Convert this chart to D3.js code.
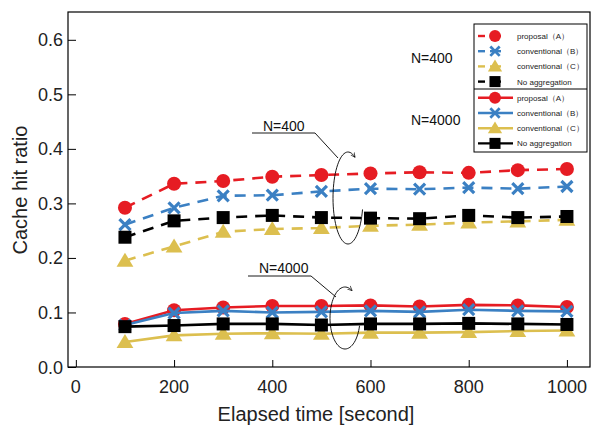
<!DOCTYPE html>
<html lang="en">
<head>
<meta charset="utf-8">
<title>Cache hit ratio</title>
<script src="https://d3js.org/d3.v7.min.js"></script>
<style>
  body { margin: 0; background: #fff; }
  text { font-family: "Liberation Sans", "DejaVu Sans", sans-serif; }
</style>
</head>
<body>
<script>
// data
var times = [100, 200, 300, 400, 500, 600, 700, 800, 900, 1000];
var xTicks = [0, 200, 400, 600, 800, 1000];
var yTicks = [0.0, 0.1, 0.2, 0.3, 0.4, 0.5, 0.6];

// N=400 (dashed)
var propA400 = [0.292, 0.336, 0.341, 0.349, 0.352, 0.355, 0.357, 0.356, 0.361, 0.363];
var convB400 = [0.261, 0.292, 0.314, 0.315, 0.322, 0.327, 0.326, 0.329, 0.327, 0.331];
var convC400 = [0.195, 0.221, 0.248, 0.253, 0.255, 0.259, 0.261, 0.265, 0.267, 0.270];
var noAgg400 = [0.238, 0.268, 0.274, 0.278, 0.274, 0.273, 0.272, 0.278, 0.274, 0.276];

// N=4000 (solid)
var propA4000 = [0.079, 0.104, 0.109, 0.112, 0.112, 0.113, 0.111, 0.114, 0.113, 0.110];
var convB4000 = [0.077, 0.099, 0.103, 0.100, 0.101, 0.103, 0.101, 0.105, 0.103, 0.102];
var convC4000 = [0.046, 0.058, 0.061, 0.062, 0.061, 0.063, 0.063, 0.064, 0.066, 0.067];
var noAgg4000 = [0.074, 0.076, 0.079, 0.079, 0.077, 0.079, 0.079, 0.080, 0.079, 0.078];

var legendLabels = ["proposal\uFF08A\uFF09", "conventional\uFF08B\uFF09", "conventional\uFF08C\uFF09", "No aggregation"];

var w = 596, h = 432;
var pLeft = 68, pRight = 590, pTop = 12, pBottom = 367;

var red = "#e61c23", blue = "#3b80c3", gold = "#dcbf4f", black = "#000";

var series = [
  {vals: propA400, color: red, shape: "circle", dash: true},
  {vals: convB400, color: blue, shape: "cross", dash: true},
  {vals: convC400, color: gold, shape: "triangle", dash: true},
  {vals: noAgg400, color: black, shape: "square", dash: true},
  {vals: propA4000, color: red, shape: "circle", dash: false},
  {vals: convB4000, color: blue, shape: "cross", dash: false},
  {vals: convC4000, color: gold, shape: "triangle", dash: false},
  {vals: noAgg4000, color: black, shape: "square", dash: false}
];

var xScale = d3.scaleLinear().domain([-16, 1047]).range([pLeft, pRight]);
var yScale = d3.scaleLinear().domain([0, 0.651]).range([pBottom, pTop]);

var svg = d3.select("body").append("svg").attr("width", w).attr("height", h);

// frame
svg.append("rect").attr("x", pLeft).attr("y", pTop).attr("width", pRight - pLeft).attr("height", pBottom - pTop)
  .attr("fill", "none").attr("stroke", "#000").attr("stroke-width", 1.2);

// axes (ticks point inward)
var xAxis = d3.axisTop(xScale).tickValues(xTicks).tickSize(7).tickFormat("");
var yAxis = d3.axisRight(yScale).tickValues(yTicks).tickSize(8).tickFormat("");
svg.append("g").attr("transform", `translate(0,${pBottom})`).call(xAxis).call(g => g.select(".domain").remove());
svg.append("g").attr("transform", `translate(${pLeft},0)`).call(yAxis).call(g => g.select(".domain").remove());

svg.selectAll(".xlab").data(xTicks).enter().append("text")
  .attr("x", d => xScale(d)).attr("y", 393).attr("text-anchor", "middle")
  .attr("font-size", 18).attr("fill", "#222").text(d => d);
svg.selectAll(".ylab").data(yTicks).enter().append("text")
  .attr("x", 63).attr("y", d => yScale(d) + 6.5).attr("text-anchor", "end")
  .attr("font-size", 18).attr("fill", "#222").text(d => d.toFixed(1));

svg.append("text").attr("x", 316).attr("y", 421).attr("text-anchor", "middle")
  .attr("font-size", 20).attr("fill", "#222").text("Elapsed time [second]");
svg.append("text").attr("transform", "translate(27,190) rotate(-90)").attr("text-anchor", "middle")
  .attr("font-size", 20).attr("fill", "#222").text("Cache hit ratio");

// markers
function drawMarker(g, shape, color, x, y, s) {
  if (shape === "circle") {
    g.append("circle").attr("cx", x).attr("cy", y).attr("r", 7 * s).attr("fill", color);
  } else if (shape === "square") {
    g.append("rect").attr("x", x - 6.5 * s).attr("y", y - 6.5 * s).attr("width", 13 * s).attr("height", 13 * s).attr("fill", color);
  } else if (shape === "triangle") {
    var r = 8 * s;
    g.append("path").attr("d", `M${x},${y - r}L${x + r * 1.05},${y + r * 0.75}L${x - r * 1.05},${y + r * 0.75}Z`).attr("fill", color);
  } else {
    var c = 5.5 * s;
    g.append("path").attr("d", `M${x - c},${y - c}L${x + c},${y + c}M${x - c},${y + c}L${x + c},${y - c}`)
      .attr("stroke", color).attr("stroke-width", 3.2 * s).attr("fill", "none");
  }
}

var line = d3.line().x((d, i) => xScale(times[i])).y(d => yScale(d));

series.forEach(function(s) {
  var g = svg.append("g");
  g.append("path").attr("d", line(s.vals)).attr("fill", "none").attr("stroke", s.color)
    .attr("stroke-width", 2.6).attr("stroke-dasharray", s.dash ? "11,8" : null);
  s.vals.forEach(function(v, i) { drawMarker(g, s.shape, s.color, xScale(times[i]), yScale(v), 1); });
});

// legend
var lg = svg.append("g");
lg.append("rect").attr("x", 474).attr("y", 24).attr("width", 113).attr("height", 128)
  .attr("fill", "#fff").attr("stroke", "#000").attr("stroke-width", 1);
lg.append("line").attr("x1", 474).attr("x2", 587).attr("y1", 89).attr("y2", 89).attr("stroke", "#000").attr("stroke-width", 1);
series.forEach(function(s, i) {
  var y = 36 + i * 15.2 + (i >= 4 ? 1 : 0);
  if (s.dash) {
    lg.append("line").attr("x1", 478).attr("x2", 485).attr("y1", y).attr("y2", y).attr("stroke", s.color).attr("stroke-width", 2.4);
    lg.append("line").attr("x1", 490).attr("x2", 501).attr("y1", y).attr("y2", y).attr("stroke", s.color).attr("stroke-width", 2.4);
  } else {
    lg.append("line").attr("x1", 478).attr("x2", 513).attr("y1", y).attr("y2", y).attr("stroke", s.color).attr("stroke-width", 2.4);
  }
  drawMarker(lg, s.shape, s.color, 495, y, 0.85);
  lg.append("text").attr("x", 517).attr("y", y + 3).attr("font-size", 8).attr("fill", "#222")
    .text(legendLabels[i % 4]);
});

svg.append("text").attr("x", 411).attr("y", 63).attr("font-size", 14).attr("fill", "#111").text("N=400");
svg.append("text").attr("x", 411).attr("y", 125).attr("font-size", 14).attr("fill", "#111").text("N=4000");

// annotations
svg.append("defs").append("marker").attr("id", "arr").attr("viewBox", "0 0 10 10")
  .attr("refX", 8).attr("refY", 5).attr("markerWidth", 6).attr("markerHeight", 6).attr("orient", "auto")
  .append("path").attr("d", "M0,1L9,5L0,9").attr("fill", "none").attr("stroke", "#000").attr("stroke-width", 1.2);

function annotate(label, tx, ty, lineY, ex, ey, cx, cy, rx, ry) {
  svg.append("text").attr("x", tx).attr("y", ty).attr("font-size", 14).attr("fill", "#111").text(label);
  svg.append("path").attr("d", `M${tx - 11},${lineY}L${tx + 52},${lineY}L${ex},${ey}`)
    .attr("fill", "none").attr("stroke", "#000").attr("stroke-width", 0.9);
  // open ellipse with arrow head
  var a0 = -0.35 * Math.PI, a1 = 1.57 * Math.PI, pts = [];
  for (var k = 0; k <= 60; k++) {
    var a = a0 - (a1 * k) / 60;
    pts.push([cx + rx * Math.cos(a), cy + ry * Math.sin(a)]);
  }
  svg.append("path").attr("d", d3.line()(pts.reverse())).attr("fill", "none").attr("stroke", "#000")
    .attr("stroke-width", 0.9).attr("marker-end", "url(#arr)");
}
annotate("N=400", 263, 131, 133, 338, 158, 348, 198, 15, 46);
annotate("N=4000", 259, 273, 276, 336, 297, 345, 318, 15, 31);
</script>
</body>
</html>
